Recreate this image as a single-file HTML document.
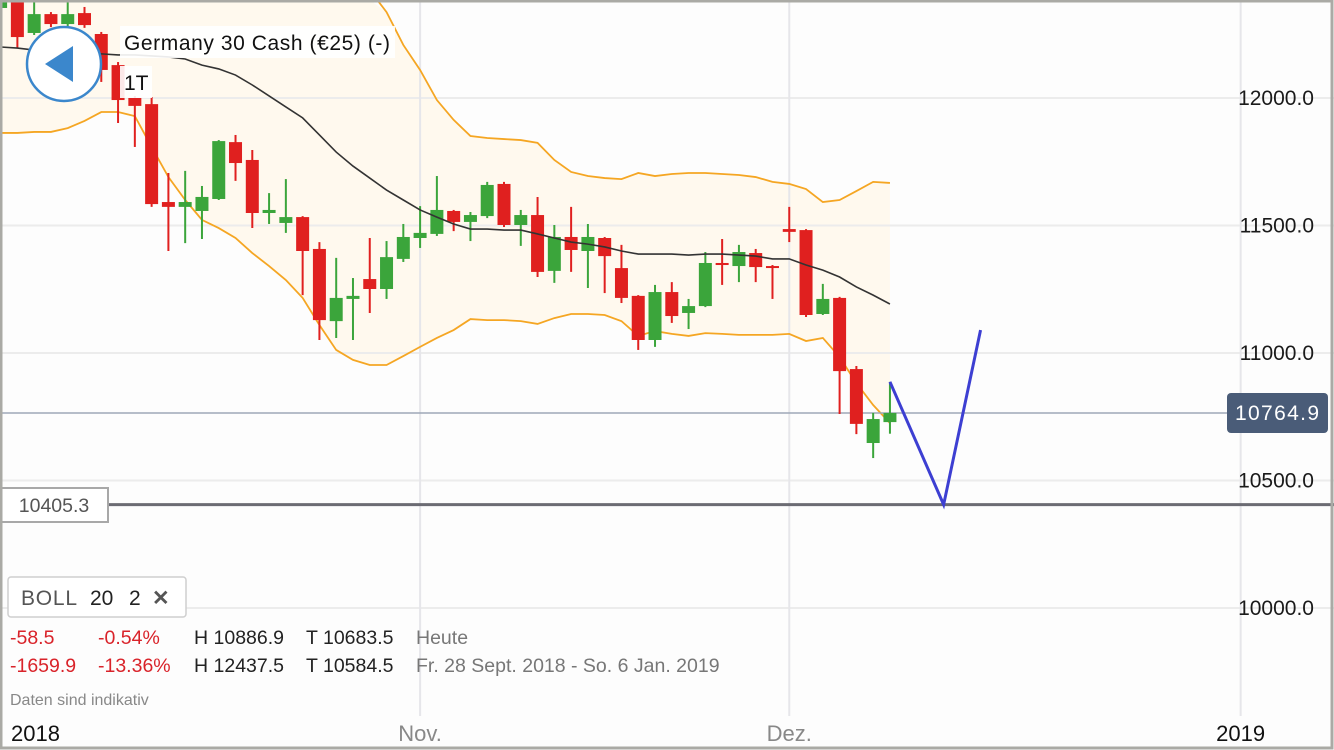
<!DOCTYPE html>
<html><head><meta charset="utf-8">
<style>
html,body{margin:0;padding:0;background:#fdfdfd;}
#wrap{position:relative;width:1334px;height:750px;overflow:hidden;font-family:"Liberation Sans",sans-serif;}
svg text{font-family:"Liberation Sans",sans-serif;}
</style></head>
<body>
<div id="wrap">
<svg id="chart" width="1334" height="750" viewBox="0 0 1334 750"></svg>
</div>
<script>
const opens=[12353,12384,12255,12329,12290,12333,12251,12129,12000,11976,11592,11573,11557,11604,11827,11757,11549,11510,11533,11408,11125,11212,11290,11251,11369,11451,11467,11557,11514,11537,11663,11502,11541,11322,11455,11400,11451,11333,11224,11051,11239,11157,11184,11353,11341,11392,11341,11486,11482,11153,11216,10937,10647,10729];
const highs=[12404,12404,12384,12337,12384,12357,12259,12141,12008,12004,11706,11714,11655,11835,11855,11796,11627,11682,11537,11435,11373,11294,11451,11439,11506,11576,11694,11561,11553,11671,11671,11561,11612,11502,11573,11506,11455,11424,11227,11267,11278,11212,11396,11447,11424,11408,11345,11573,11486,11271,11220,10949,10765,10886.9];
const lows=[12345,12196,12247,12278,12282,12275,12063,11902,11808,11573,11400,11431,11447,11600,11675,11490,11506,11471,11227,11051,11059,11051,11157,11212,11357,11412,11459,11478,11439,11529,11494,11420,11298,11275,11318,11255,11235,11196,11012,11024,11118,11094,11180,11267,11278,11278,11212,11435,11141,11149,10761,10682,10588,10683.5];
const closes=[12384,12239,12329,12290,12329,12286,12110,11992,11969,11584,11573,11592,11612,11831,11745,11549,11561,11533,11400,11129,11216,11224,11251,11376,11455,11471,11561,11514,11541,11659,11502,11541,11318,11455,11404,11455,11380,11216,11051,11239,11145,11184,11353,11345,11396,11337,11337,11475,11149,11212,10929,10722,10741,10764.9];
const bollUpper=[12950,12940,12920,12900,12880,12860,12840,12820,12800,12780,12760,12740,12720,12700,12670,12640,12610,12580,12550,12510,12470,12440,12423,12337,12208,12110,11992,11914,11851,11843,11839,11835,11824,11757,11710,11694,11686,11682,11706,11694,11702,11706,11706,11702,11698,11690,11671,11663,11643,11592,11600,11635,11671,11667];
const bollMid=[12200,12196,12188,12184,12180,12176,12173,12169,12169,12165,12161,12153,12129,12114,12090,12051,12008,11965,11922,11855,11788,11733,11686,11639,11600,11561,11533,11506,11486,11486,11482,11482,11467,11451,11435,11427,11416,11400,11388,11388,11388,11384,11388,11388,11384,11380,11369,11369,11345,11325,11298,11259,11227,11192];
const bollLower=[11863,11863,11867,11867,11882,11910,11945,11945,11929,11808,11690,11600,11522,11490,11451,11392,11341,11286,11216,11110,11012,10973,10953,10953,10988,11024,11059,11090,11133,11129,11129,11125,11114,11137,11153,11153,11149,11125,11067,11086,11075,11067,11078,11075,11071,11071,11071,11075,11047,11059,10984,10882,10796,10725];
const yTicks=[12000,11500,11000,10500,10000];
const xTickLabels=["2018","Nov.","Dez.","2019"];
const xTickIndex=[-0.5,25,47,73.9];
const lastPrice=10764.9;
const supportPrice=10405.3;
const drawPrices=[10886.9,10405.3,11090];
const drawIndex=[53,56.2,58.4];

const NS='http://www.w3.org/2000/svg';
const svg=document.getElementById('chart');
function y(v){return 98+(12000-v)*0.255;}
function x(i){return 0.6+i*16.78;}
function el(tag,attrs,parent){const e=document.createElementNS(NS,tag);for(const k in attrs)e.setAttribute(k,attrs[k]);(parent||svg).appendChild(e);return e;}

let bg=el('rect',{x:0,y:0,width:1334,height:750,fill:'#fdfdfd'});



let pts=[];
for(let i=0;i<bollUpper.length;i++)pts.push(x(i)+','+Math.max(0,y(bollUpper[i])));
for(let i=bollLower.length-1;i>=0;i--)pts.push(x(i)+','+y(bollLower[i]));
let band=el('polygon',{points:pts.join(' '),fill:'#fff8ea',opacity:0.8});



yTicks.forEach(v=>{
  let g=el('line',{x1:0,x2:1334,y1:y(v),y2:y(v),stroke:'#ececec','stroke-width':2});
  
  
});
xTickIndex.forEach((ix,k)=>{
  if(k===0)return;
  let g=el('line',{x1:x(ix),x2:x(ix),y1:0,y2:716,stroke:'#e6e6ea','stroke-width':2});
  
  
});

function linePath(arr,color,name,w){
  let d=arr.map((v,i)=>(i?'L':'M')+x(i)+','+y(v)).join(' ');
  let p=el('path',{d:d,fill:'none',stroke:color,'stroke-width':w});
  
  
}
linePath(bollUpper,'#f5a623','bollinger-upper',1.8);
linePath(bollLower,'#f5a623','bollinger-lower',1.8);

let lp=el('line',{x1:0,x2:1230,y1:y(lastPrice),y2:y(lastPrice),stroke:'#9ea8b8','stroke-width':1.5});



for(let i=0;i<opens.length;i++){
  const up=closes[i]>=opens[i];
  const c=up?'#3ba53b':'#e0201f';
  const g=el('g',{});
  
  
  el('line',{x1:x(i),x2:x(i),y1:y(highs[i]),y2:y(lows[i]),stroke:c,'stroke-width':2},g);
  const t=y(Math.max(opens[i],closes[i])),b=y(Math.min(opens[i],closes[i]));
  el('rect',{x:x(i)-6.5,y:t,width:13,height:Math.max(2,b-t),fill:c},g);
}
linePath(bollMid,'#333333','bollinger-middle',1.6);

let sl=el('line',{x1:108,x2:1334,y1:y(supportPrice),y2:y(supportPrice),stroke:'#6b6b73','stroke-width':3});



let dp=el('polyline',{points:drawPrices.map((v,k)=>x(drawIndex[k])+','+y(v)).join(' '),fill:'none',stroke:'#3d3fd2','stroke-width':3,'stroke-linejoin':'miter'});



yTicks.forEach(v=>{
  let t=el('text',{x:1314,y:y(v)+7,'text-anchor':'end','font-size':21,fill:'#1a1a1a'});
  t.textContent=v.toFixed(1);
  
  
});
let lb=el('rect',{x:1227,y:393,width:101,height:40,rx:4,fill:'#4a5c78'});


let lt=el('text',{x:1277,y:420,'text-anchor':'middle','font-size':21,fill:'#fff','textLength':84});
lt.textContent=lastPrice.toFixed(1);


let sb=el('rect',{x:1,y:488,width:107,height:34,fill:'#fff',stroke:'#a8a8a8','stroke-width':2});


let st=el('text',{x:54,y:512,'text-anchor':'middle','font-size':19.5,fill:'#555'});
st.textContent=supportPrice.toFixed(1);



let xa=el('rect',{x:0,y:716,width:1334,height:34,fill:'#fdfdfd'});


xTickLabels.forEach((s,k)=>{
  const dark=(k===0||k===3);
  let t=el('text',{x:k===0?11:x(xTickIndex[k]),y:741,'text-anchor':k===0?'start':'middle','font-size':22,fill:dark?'#111':'#888'});
  t.textContent=s;
  
  
});

let fr=el('rect',{x:1,y:1,width:1331,height:747,fill:'none',stroke:'#aaaaa5','stroke-width':3});



let tb=el('rect',{x:120,y:26,width:275,height:32,fill:'#fff',opacity:0.9});


let tt=el('text',{x:124,y:50,'font-size':21,fill:'#111','textLength':266});
tt.textContent='Germany 30 Cash (€25) (-)';


let pb=el('rect',{x:120,y:66,width:32,height:32,fill:'#fff',opacity:0.9});


let pt=el('text',{x:124,y:90,'font-size':21,fill:'#111'});
pt.textContent='1T';



let bb=el('circle',{cx:64,cy:64,r:37,fill:'#fff',stroke:'#3b87cc','stroke-width':2.5});


let ba=el('polygon',{points:'45,64 73,46 73,82',fill:'#3b87cc'});



let bl=el('rect',{x:8,y:577,width:178,height:40,rx:3,fill:'#fff',stroke:'#cfcfcf','stroke-width':1.5});


let blt=el('text',{x:21,y:605,'font-size':21,fill:'#555','textLength':56});
blt.textContent='BOLL';


let blp=el('text',{x:90,y:605,'font-size':21,fill:'#222'});
blp.textContent='20';


let blq=el('text',{x:129,y:605,'font-size':21,fill:'#222'});
blq.textContent='2';


let blx=el('text',{x:152,y:605,'font-size':21,'font-weight':'bold',fill:'#555'});
blx.textContent='✕';



const rows=[["-58.5","-0.54%","H 10886.9","T 10683.5","Heute",644],["-1659.9","-13.36%","H 12437.5","T 10584.5","Fr. 28 Sept. 2018 - So. 6 Jan. 2019",672]];
const cols=[10,98,194,306,416];
const colColors=['#d9232a','#d9232a','#222','#222','#777'];
rows.forEach(r=>{
  for(let k=0;k<5;k++){
    let t=el('text',{x:cols[k],y:r[5],'font-size':19.5,fill:colColors[k]});
    t.textContent=r[k];
    
    
  }
});
let dn=el('text',{x:10,y:705,'font-size':16,fill:'#888'});
dn.textContent='Daten sind indikativ';


</script>
</body></html>
